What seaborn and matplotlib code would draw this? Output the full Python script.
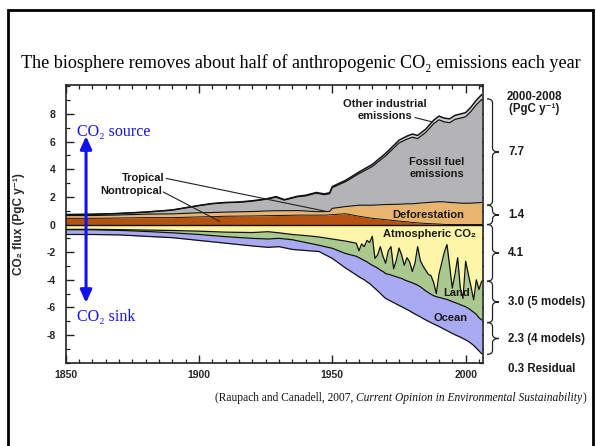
import numpy as np
import matplotlib
matplotlib.use("Agg")
import matplotlib.pyplot as plt
import seaborn as sns
from matplotlib.path import Path
from matplotlib.patches import PathPatch, FancyArrowPatch, Rectangle
from matplotlib.transforms import blended_transform_factory
from matplotlib.ticker import MultipleLocator

# ---------------- sources (PgC per year) ----------------
src_years = [1850, 1860, 1870, 1880, 1890, 1900, 1905, 1910, 1915, 1920, 1925, 1929,
             1932, 1937, 1940, 1944, 1947, 1949, 1950, 1955, 1960, 1965, 1970, 1975,
             1978, 1980, 1982, 1985, 1988, 1990, 1992, 1994, 1996, 1998, 2000, 2002,
             2004, 2006]
defor_nontropical = [0.45, 0.45, 0.47, 0.50, 0.50, 0.55, 0.57, 0.60, 0.61, 0.62, 0.64, 0.65,
                     0.66, 0.68, 0.68, 0.68, 0.68, 0.70, 0.72, 0.78, 0.60, 0.45, 0.35, 0.25,
                     0.20, 0.15, 0.12, 0.08, 0.05, 0.03, 0.01, 0.0, 0.0, 0.0, 0.0, 0.0,
                     0.0, 0.0]
defor_tropical = [0.20, 0.20, 0.22, 0.25, 0.27, 0.30, 0.30, 0.30, 0.31, 0.32, 0.34, 0.35,
                  0.34, 0.33, 0.30, 0.25, 0.25, 0.25, 0.45, 0.52, 0.80, 0.95, 1.10, 1.22,
                  1.30, 1.35, 1.42, 1.50, 1.58, 1.62, 1.63, 1.60, 1.58, 1.55, 1.54, 1.55,
                  1.57, 1.60]
fossil_fuel = [0.07, 0.09, 0.11, 0.15, 0.28, 0.52, 0.64, 0.68, 0.69, 0.75, 0.84, 0.98,
               0.77, 1.00, 1.09, 1.34, 1.23, 1.28, 1.50, 1.80, 2.28, 2.80, 3.52, 4.43,
               4.68, 4.82, 4.68, 5.08, 5.66, 5.93, 5.79, 5.77, 6.03, 6.15, 6.26, 6.64,
               7.10, 7.45]
other_industrial = [0.0, 0.0, 0.0, 0.0, 0.0, 0.01, 0.01, 0.02, 0.02, 0.03, 0.03, 0.04,
                    0.03, 0.04, 0.05, 0.05, 0.06, 0.07, 0.08, 0.10, 0.12, 0.15, 0.18, 0.20,
                    0.22, 0.23, 0.23, 0.24, 0.26, 0.27, 0.27, 0.28, 0.29, 0.30, 0.30, 0.31,
                    0.33, 0.35]

# ---------------- sinks (PgC per year, magnitudes) ----------------
sink_years = [1850, 1860, 1870, 1880, 1890, 1900, 1910, 1920, 1926, 1930, 1935, 1940,
              1945, 1950, 1955] + list(range(1959, 2007))
atmospheric = [0.35, 0.35, 0.37, 0.40, 0.43, 0.48, 0.55, 0.58, 0.52, 0.60, 0.72, 0.80,
               0.90, 1.05, 1.20,
               1.35, 1.90, 1.40, 1.60, 1.15, 1.30, 0.85, 2.45, 2.20, 1.60,
               2.30, 2.80, 1.90, 1.60, 3.20, 2.60, 1.70, 2.20, 2.95, 2.40,
               2.70, 3.40, 2.80, 1.60, 2.60, 3.00, 3.30, 3.60, 3.70, 4.20,
               5.00, 3.60, 2.80, 2.00, 1.45, 3.00, 4.60, 3.60, 2.40, 4.60,
               5.35, 2.65, 3.60, 4.50, 5.45, 4.00, 4.70, 4.10]
land = [0.03, 0.03, 0.05, 0.10, 0.17, 0.24, 0.33, 0.42, 0.53, 0.40, 0.38, 0.50,
        0.60, 0.67, 0.90,
        0.95, 0.50, 1.10, 1.00, 1.55, 1.53, 2.10, 0.60, 0.95, 1.70,
        1.10, 0.75, 1.70, 2.05, 0.52, 1.18, 2.15, 1.70, 1.05, 1.68,
        1.45, 0.82, 1.50, 2.79, 1.90, 1.65, 1.50, 1.32, 1.35, 0.95,
        0.22, 1.68, 2.52, 3.38, 3.97, 2.50, 0.98, 2.05, 3.32, 1.20,
        0.53, 3.30, 2.46, 1.70, 0.90, 2.50, 2.05, 2.80]
ocean = [0.34, 0.34, 0.33, 0.35, 0.35, 0.43, 0.47, 0.55, 0.60, 0.60, 0.70, 0.58,
         0.45, 0.73, 1.05,
         1.35, 1.38, 1.40, 1.40, 1.45, 1.44, 1.50, 1.57, 1.65, 1.68,
         1.77, 1.80, 1.85, 1.90, 1.93, 1.97, 2.00, 2.05, 2.05, 2.07,
         2.10, 2.15, 2.18, 2.19, 2.18, 2.15, 2.10, 2.08, 2.05, 2.05,
         2.06, 2.10, 2.16, 2.20, 2.26, 2.28, 2.30, 2.33, 2.34, 2.35,
         2.37, 2.40, 2.40, 2.40, 2.40, 2.45, 2.40, 2.45]

# ---------------- 2000-2008 budget ----------------
budget_fossil = 7.7
budget_defor = 1.4
budget_atmos = 4.1
budget_land = 3.0
budget_ocean = 2.3
budget_residual = 0.3
land_models = 5
ocean_models = 4

C_NONTROP = "#b5520f"
C_TROP = "#e9b46e"
C_FOSSIL = "#b4b4b6"
C_OTHER = "#cfcfd2"
C_ATMOS = "#fdf5a8"
C_LAND = "#a9c98f"
C_OCEAN = "#aaaaf2"
C_BLUE = "#1212ee"

sns.set_theme(style="ticks")
SANS = ["Liberation Sans", "DejaVu Sans"]
SERIF = ["Liberation Serif", "DejaVu Serif"]
plt.rcParams["font.family"] = SANS

fig = plt.figure(figsize=(5.96, 4.46), dpi=100)
fig.patch.set_facecolor("white")
ax = fig.add_axes([0.1099, 0.1868, 0.7005, 0.6226])
ax.set_facecolor("white")

# ---- stacked sources above zero ----
yA = np.array(src_years, dtype=float)
s0 = np.zeros_like(yA)
s1 = s0 + np.array(defor_nontropical)
s2 = s1 + np.array(defor_tropical)
s3 = s2 + np.array(fossil_fuel)
s4 = s3 + np.array(other_industrial)
for lo, hi, col in [(s0, s1, C_NONTROP), (s1, s2, C_TROP), (s2, s3, C_FOSSIL), (s3, s4, C_OTHER)]:
    ax.fill_between(yA, lo, hi, color=col, lw=0, zorder=1)
for b, w in [(s1, 0.7), (s2, 0.8), (s3, 0.9), (s4, 1.1)]:
    sns.lineplot(x=yA, y=b, color="#111111", lw=w, ax=ax, zorder=3)

# ---- stacked sinks below zero ----
yB = np.array(sink_years, dtype=float)
n0 = np.zeros_like(yB)
n1 = n0 - np.array(atmospheric)
n2 = n1 - np.array(land)
n3 = n2 - np.array(ocean)
for lo, hi, col in [(n1, n0, C_ATMOS), (n2, n1, C_LAND), (n3, n2, C_OCEAN)]:
    ax.fill_between(yB, lo, hi, color=col, lw=0, zorder=1)
for b in (n1, n2, n3):
    sns.lineplot(x=yB, y=b, color="#111111", lw=0.9, ax=ax, zorder=3)
ax.axhline(0, color="#111111", lw=1.0, zorder=3)

# ---- axes formatting ----
ax.set_xlim(1850, 2006.5)
ax.set_ylim(-10, 10.1)
xt = [1850, 1900, 1950, 2000]
ax.set_xticks(xt, labels=[str(v) for v in xt], fontsize=7.5, fontweight="bold")
yt = list(range(-8, 9, 2))
ax.set_yticks(yt, labels=[str(v) for v in yt], fontsize=7.5, fontweight="bold")
ax.xaxis.set_minor_locator(MultipleLocator(5))
ax.yaxis.set_minor_locator(MultipleLocator(1))
ax.tick_params(which="both", direction="in", top=True, right=True, color="#222222")
ax.tick_params(which="major", length=5.5, width=1.0)
ax.tick_params(which="minor", length=3.0, width=0.9)
ax.tick_params(axis="y", pad=7)
ax.tick_params(axis="x", pad=5)
for sp in ax.spines.values():
    sp.set_linewidth(1.2)
    sp.set_color("#222222")
ax.set_ylabel("CO₂ flux (PgC y⁻¹)", fontsize=8.5, fontweight="bold")
ax.yaxis.set_label_coords(-0.097, 0.5)
ax.set_xlabel("")

# ---- in-plot labels ----
lab = dict(fontsize=8, fontweight="bold", color="#1a1a1a", zorder=5)
ax.text(1969.8, 8.28, "Other industrial\nemissions", ha="center", va="center",
        linespacing=1.3, **lab)
ax.plot([1981.0, 1987.7], [7.74, 7.42], color="#222222", lw=0.8, zorder=5)
ax.text(1989.2, 4.09, "Fossil fuel\nemissions", ha="center", va="center",
        linespacing=1.35, **lab)
ax.text(1986.0, 0.70, "Deforestation", ha="center", va="center", **lab)
ax.text(1986.6, -0.67, "Atmospheric CO₂", ha="center", va="center", **lab)
ax.text(1996.6, -4.98, "Land", ha="center", va="center", **lab)
ax.text(1994.4, -6.76, "Ocean", ha="center", va="center", **lab)
ax.text(1887.0, 3.35, "Tropical", ha="right", va="center", **lab)
ax.text(1886.2, 2.43, "Nontropical", ha="right", va="center", **lab)
ax.plot([1887.7, 1948.0], [3.34, 0.94], color="#222222", lw=0.8, zorder=5)
ax.plot([1886.6, 1907.9], [2.36, 0.22], color="#222222", lw=0.8, zorder=5)

# ---- source / sink arrow ----
arr = FancyArrowPatch((1857.7, 6.4), (1857.7, -5.67),
                      arrowstyle="<|-|>,head_length=0.42,head_width=0.19",
                      mutation_scale=18, color=C_BLUE, lw=2.2, zorder=6,
                      shrinkA=0, shrinkB=0)
ax.add_patch(arr)
ax.text(1854.2, 6.71, "CO₂ source", ha="left", va="center", fontsize=11.5,
        family=SERIF, color=C_BLUE, zorder=6)
ax.text(1854.2, -6.69, "CO₂ sink", ha="left", va="center", fontsize=11.5,
        family=SERIF, color=C_BLUE, zorder=6)

# ---- budget braces on the right ----
btrans = blended_transform_factory(ax.transAxes, ax.transData)
xL, xM, xT = 1.0096, 1.0228, 1.0383


def brace(top, bot, r=0.3):
    mid = 0.5 * (top + bot)
    verts = [(xL, top), (xM, top), (xM, top - r),
             (xM, mid + r), (xM, mid), (xT, mid),
             (xM, mid), (xM, mid - r),
             (xM, bot + r), (xM, bot), (xL, bot)]
    codes = [Path.MOVETO, Path.CURVE3, Path.CURVE3,
             Path.LINETO, Path.CURVE3, Path.CURVE3,
             Path.CURVE3, Path.CURVE3,
             Path.LINETO, Path.CURVE3, Path.CURVE3]
    ax.add_patch(PathPatch(Path(verts, codes), transform=btrans, fill=False,
                           lw=0.9, ec="#222222", clip_on=False))
    return mid


rl = dict(fontsize=8.3, fontweight="bold", color="#1a1a1a", transform=btrans,
          ha="left", va="center", clip_on=False)
spans = [
    (budget_defor + budget_fossil, budget_defor, f"{budget_fossil:.1f}"),
    (budget_defor, 0.0, f"{budget_defor:.1f}"),
    (0.0, -budget_atmos, f"{budget_atmos:.1f}"),
    (-budget_atmos, -budget_atmos - budget_land,
     f"{budget_land:.1f} ({land_models} models)"),
    (-budget_atmos - budget_land, -budget_atmos - budget_land - budget_ocean,
     f"{budget_ocean:.1f} ({ocean_models} models)"),
]
for top, bot, txt in spans:
    m = brace(top, bot)
    ax.text(1.06, m, txt, **rl)
ax.text(1.06, -10.49, f"{budget_residual:.1f} Residual", **rl)
ax.text(1.123, 9.2, "2000-2008", fontsize=8.3, fontweight="bold", color="#1a1a1a",
        transform=btrans, ha="center", va="center", clip_on=False)
ax.text(1.123, 8.35, "(PgC y⁻¹)", fontsize=8.3, fontweight="bold", color="#1a1a1a",
        transform=btrans, ha="center", va="center", clip_on=False)

# ---- slide frame, heading and citation ----
fig.add_artist(Rectangle((8 / 596, -0.05), (593 - 8) / 596, 0.05 + (446 - 10) / 446,
                         transform=fig.transFigure, fill=False, lw=2.0, ec="black"))
fig.text(0.505, 1 - 63 / 446,
         "The biosphere removes about half of anthropogenic CO₂ emissions each year",
         ha="center", va="center", fontsize=13.1, family=SERIF, color="black")
t1 = fig.text(215 / 596, 1 - 398 / 446, "(Raupach and Canadell, 2007, ",
              ha="left", va="center", fontsize=8.3, family=SERIF, color="#111111")
t2 = ax.annotate("Current Opinion in Environmental Sustainability", xy=(1, 0),
                 xycoords=t1, ha="left", va="bottom", fontsize=8.3, family=SERIF,
                 style="italic", color="#111111", annotation_clip=False)
ax.annotate(")", xy=(1, 0), xycoords=t2, ha="left", va="bottom", fontsize=8.3,
            family=SERIF, color="#111111", annotation_clip=False)

fig.savefig("out.png", dpi=100, facecolor="white")
